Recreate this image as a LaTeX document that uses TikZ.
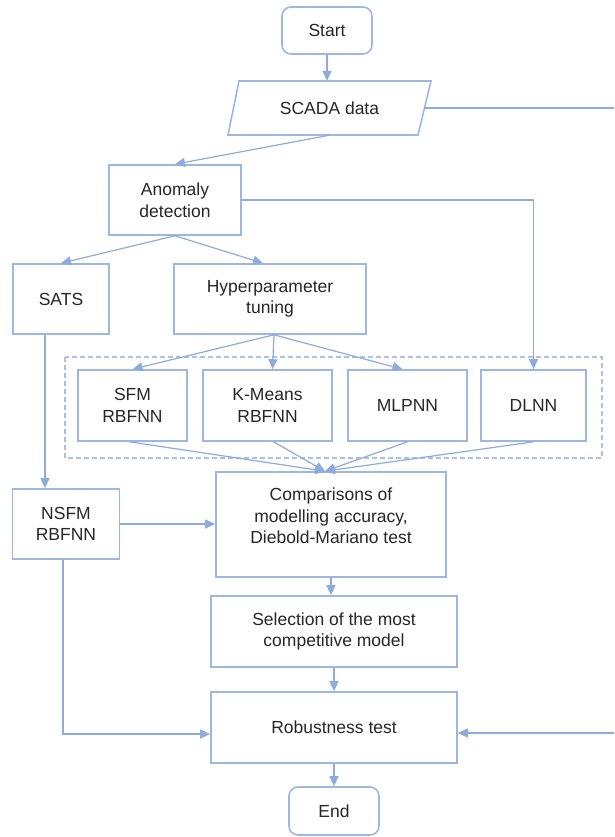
\documentclass[tikz,border=0pt]{standalone}
\usepackage{fontspec}
\setmainfont{Liberation Sans}
\usetikzlibrary{arrows.meta}
\definecolor{lineblue}{HTML}{8FAADC}
\definecolor{boxblue}{HTML}{9DB7E4}
\definecolor{dashblue}{HTML}{A9C2EA}
\definecolor{txtgray}{HTML}{262626}
\tikzset{
  box/.style={draw=boxblue, line width=1.6pt, rectangle, align=center, text=txtgray,
    font=\fontsize{17.5}{21.5}\selectfont, inner sep=0pt},
  term/.style={box, rounded corners=9pt},
  txt/.style={align=center, text=txtgray, font=\fontsize{17.5}{21.5}\selectfont, inner sep=0pt},
  arr/.style={draw=lineblue, line width=1.2pt, -{Triangle[length=10pt,width=9pt]}},
  conn/.style={draw=lineblue, line width=1.2pt},
}
\begin{document}
\begin{tikzpicture}[x=1pt,y=-1pt]
\useasboundingbox (0,0) rectangle (614,837);
% nodes
\node[term, minimum width=90, minimum height=47] (start) at (327,30.5) {Start};
\draw[draw=boxblue, line width=1.6pt] (239,81) -- (431,81) -- (418,135) -- (228,135) -- cycle;
\node[txt, minimum width=189, minimum height=54] (scada) at (329.5,108) {SCADA data};
\node[box, minimum width=132, minimum height=70] (anom) at (175,200) {Anomaly\\detection};
\node[box, minimum width=96, minimum height=70] (sats) at (61,299) {SATS};
\node[box, minimum width=192, minimum height=70] (hyp) at (270,299) {Hyperparameter\\tuning};
\draw[draw=dashblue, line width=1.4pt, dash pattern=on 5pt off 3pt] (65,357) rectangle (602,458);
\node[box, minimum width=109, minimum height=71] (sfm) at (132.5,405.5) {SFM\\RBFNN};
\node[box, minimum width=129, minimum height=71] (km) at (267.5,405.5) {K-Means\\RBFNN};
\node[box, minimum width=119, minimum height=71] (mlp) at (407.5,405.5) {MLPNN};
\node[box, minimum width=105, minimum height=71] (dlnn) at (533.5,405.5) {DLNN};
\node[box, minimum width=230, minimum height=105] (cmp) at (331,524.5) {};
\node[txt] (cmptxt) at (331,516) {Comparisons of\\modelling accuracy,\\Diebold-Mariano test};
\node[box, minimum width=107, minimum height=70] (nsfm) at (66,524) {NSFM\\RBFNN};
\node[box, minimum width=246, minimum height=71] (sel) at (334,631.5) {Selection of the most\\competitive model};
\node[box, minimum width=246, minimum height=71] (rob) at (334,727.5) {Robustness test};
\node[term, minimum width=90, minimum height=48] (end) at (334,811) {End};
\coordinate (rt1) at (614,108);
\coordinate (rt2) at (614,733);
% connectors
\draw[arr] (start.south) -- (start.south |- scada.north);
\draw[conn] (scada.east) -- (rt1);
\draw[arr] (scada.south) -- (anom.north);
\draw[arr] (anom.east) -| (dlnn.north);
\draw[arr] (anom.south) -- (sats.north);
\draw[arr] (anom.south) -- ([xshift=-7pt]hyp.north);
\draw[arr] ([xshift=4pt]hyp.south) -- (sfm.north);
\draw[arr] ([xshift=4pt]hyp.south) -- ([xshift=5pt]km.north);
\draw[arr] ([xshift=4pt]hyp.south) -- ([xshift=-5pt]mlp.north);
\draw[arr] ([xshift=-3pt]sfm.south) -- ([xshift=-6pt]cmp.north);
\draw[arr] ([xshift=6pt]km.south) -- ([xshift=-6pt]cmp.north);
\draw[arr] (mlp.south) -- ([xshift=-6pt]cmp.north);
\draw[arr] (dlnn.south) -- ([xshift=-6pt]cmp.north);
\draw[arr] ([xshift=-16pt]sats.south) -- ([xshift=-16pt]sats.south |- nsfm.north);
\draw[arr] (nsfm.east) -- (nsfm.east -| cmp.west);
\draw[arr] (cmp.south) -- (cmp.south |- sel.north);
\draw[arr] (sel.south) -- (rob.north);
\draw[arr] ([xshift=-3pt]nsfm.south) |- ([yshift=-6.5pt]rob.west);
\draw[arr] (rt2) -- ([yshift=-5.5pt]rob.east);
\draw[arr] (rob.south) -- (end.north);
\end{tikzpicture}
\end{document}
